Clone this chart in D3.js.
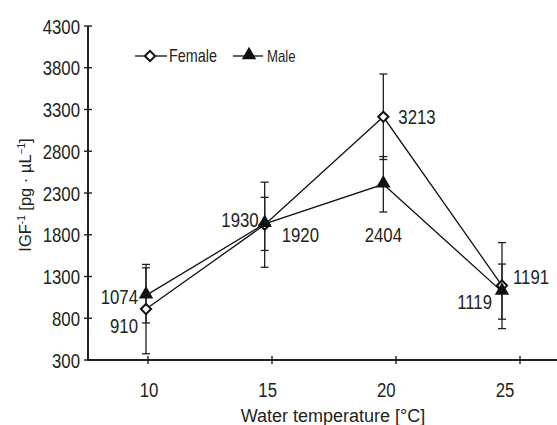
<!DOCTYPE html>
<html>
<head>
<meta charset="utf-8">
<script src="https://cdn.jsdelivr.net/npm/d3@7"></script>
<style>
  body { margin: 0; background: #fff; }
  svg { display: block; }
  .narrow { font-family: "Liberation Sans", Arial, sans-serif; }
  .reg { font-family: "Liberation Sans", Arial, sans-serif; }
</style>
</head>
<body>
<div id="chart"></div>
<script>
// ----------------------------
// Data
// ----------------------------
const temps = [10, 15, 20, 25];
const female = [910, 1920, 3213, 1191];
const male = [1074, 1930, 2404, 1119];
const femaleErr = [535, 510, 512, 515];
const maleErr = [330, 318, 332, 330];
const yTicks = [300, 800, 1300, 1800, 2300, 2800, 3300, 3800, 4300];
const legendNames = ['Female', 'Male'];

const W = 557, H = 425;
const ink = '#231f20';
const SQUEEZE = 0.8; // no Arial Narrow installed, so squeeze Liberation Sans

const svg = d3.select('#chart').append('svg')
  .attr('width', W).attr('height', H);

// narrow text helper: position via transform so the x-scale doesn't shift it
function narrow(sel, fx, fy) {
  return sel
    .attr('class', 'narrow')
    .attr('x', 0).attr('y', 0)
    .attr('transform', (d, i) => `translate(${fx(d, i)},${fy(d, i)}) scale(${SQUEEZE},1)`);
}

// ----------------------------
// Scales
// ----------------------------
const y = d3.scaleLinear().domain([300, 4300]).range([360, 26]);
const x = d3.scaleLinear().domain([10, 25]).range([146, 502]);
// tick marks of the category axis sit a bit off the points
const xTick = d3.scaleLinear().domain([10, 25]).range([148, 520]);

// ----------------------------
// Axes
// ----------------------------
const axisX0 = 88;

svg.append('line')
  .attr('x1', axisX0).attr('x2', axisX0)
  .attr('y1', y(4300)).attr('y2', y(300) + 1)
  .attr('stroke', ink).attr('stroke-width', 2);

svg.append('line')
  .attr('x1', axisX0 - 1).attr('x2', W)
  .attr('y1', y(300)).attr('y2', y(300))
  .attr('stroke', ink).attr('stroke-width', 2);

const yAx = svg.append('g');
yAx.selectAll('line').data(yTicks).enter().append('line')
  .attr('x1', axisX0 - 4).attr('x2', axisX0 + 4)
  .attr('y1', d => y(d)).attr('y2', d => y(d))
  .attr('stroke', ink).attr('stroke-width', 1.4);
yAx.selectAll('text').data(yTicks).enter().append('text')
  .call(narrow, () => axisX0 - 8, d => y(d) + 7.5)
  .attr('text-anchor', 'end')
  .attr('font-size', '21px')
  .attr('fill', ink)
  .text(d => d);

const xAx = svg.append('g');
xAx.selectAll('line').data(temps).enter().append('line')
  .attr('x1', d => xTick(d)).attr('x2', d => xTick(d))
  .attr('y1', y(300) - 4).attr('y2', y(300) + 4)
  .attr('stroke', ink).attr('stroke-width', 1.4);
xAx.selectAll('text').data(temps).enter().append('text')
  .call(narrow, d => x(d) + 3, () => 397)
  .attr('text-anchor', 'middle')
  .attr('font-size', '21px')
  .attr('fill', ink)
  .text(d => d);

svg.append('text')
  .attr('class', 'reg')
  .attr('x', 333).attr('y', 422)
  .attr('text-anchor', 'middle')
  .attr('font-size', '18px')
  .attr('fill', ink)
  .text('Water temperature [°C]');

const yTitle = svg.append('text')
  .attr('class', 'reg')
  .attr('transform', 'translate(31,195) rotate(-90)')
  .attr('text-anchor', 'middle')
  .attr('font-size', '16.5px')
  .attr('fill', ink);
yTitle.append('tspan').text('IGF');
yTitle.append('tspan').attr('font-size', '10px').attr('dy', -6).text('-1');
yTitle.append('tspan').attr('dy', 6).text(' [pg · µL');
yTitle.append('tspan').attr('font-size', '10px').attr('dy', -6).text('−1');
yTitle.append('tspan').attr('dy', 6).text(']');

// ----------------------------
// Series
// ----------------------------
const series = [
  { name: 'Female', vals: female, err: femaleErr },
  { name: 'Male', vals: male, err: maleErr }
];

const line = d3.line().x((d, i) => x(temps[i])).y(d => y(d));

series.forEach(s => {
  const g = svg.append('g');
  // error bars
  s.vals.forEach((v, i) => {
    const cx = x(temps[i]);
    g.append('line')
      .attr('x1', cx).attr('x2', cx)
      .attr('y1', y(v + s.err[i])).attr('y2', y(v - s.err[i]))
      .attr('stroke', ink).attr('stroke-width', 1.3);
    [v + s.err[i], v - s.err[i]].forEach(e => {
      g.append('line')
        .attr('x1', cx - 4).attr('x2', cx + 4)
        .attr('y1', y(e)).attr('y2', y(e))
        .attr('stroke', ink).attr('stroke-width', 1.3);
    });
  });
});

series.forEach(s => {
  svg.append('path')
    .datum(s.vals)
    .attr('d', line)
    .attr('fill', 'none')
    .attr('stroke', '#111')
    .attr('stroke-width', 1.3);
});

const diamond = d3.symbol().type(d3.symbolDiamond2).size(66);
const triangle = d3.symbol().type(d3.symbolTriangle).size(90);

function drawMarker(sel, name, cx, cy) {
  if (name === 'Female') {
    sel.append('path')
      .attr('d', diamond())
      .attr('transform', `translate(${cx},${cy})`)
      .attr('fill', '#fff')
      .attr('stroke', '#111')
      .attr('stroke-width', 2);
  } else {
    sel.append('path')
      .attr('d', triangle())
      .attr('transform', `translate(${cx},${cy - 1})`)
      .attr('fill', '#111');
  }
}

series.forEach(s => {
  const g = svg.append('g');
  s.vals.forEach((v, i) => drawMarker(g, s.name, x(temps[i]), y(v)));
});

// ----------------------------
// Value labels
// ----------------------------
const femaleLabelPos = [
  { dx: -8, dy: 24, anchor: 'end' },
  { dx: 17, dy: 17, anchor: 'start' },
  { dx: 15, dy: 7, anchor: 'start' },
  { dx: 11, dy: -2, anchor: 'start' }
];
const maleLabelPos = [
  { dx: -8, dy: 9, anchor: 'end' },
  { dx: -6, dy: 3, anchor: 'end' },
  { dx: 0, dy: 58, anchor: 'middle' },
  { dx: -10, dy: 17, anchor: 'end' }
];

function drawLabels(vals, pos) {
  svg.append('g').selectAll('text').data(vals).enter().append('text')
    .call(narrow, (d, i) => x(temps[i]) + pos[i].dx, (d, i) => y(d) + pos[i].dy)
    .attr('text-anchor', (d, i) => pos[i].anchor)
    .attr('font-size', '21px')
    .attr('fill', ink)
    .text(d => d);
}
drawLabels(female, femaleLabelPos);
drawLabels(male, maleLabelPos);

// ----------------------------
// Legend
// ----------------------------
const legend = svg.append('g');
const legendItems = [
  { name: legendNames[0], x1: 135, x2: 167, mx: 150, tx: 169, fs: 18 },
  { name: legendNames[1], x1: 233, x2: 263, mx: 249, tx: 267, fs: 16.5 }
];
legendItems.forEach(it => {
  legend.append('line')
    .attr('x1', it.x1).attr('x2', it.x2)
    .attr('y1', 56).attr('y2', 56)
    .attr('stroke', '#111').attr('stroke-width', 1.3);
  drawMarker(legend, it.name, it.mx, 56);
  legend.append('text')
    .datum(it)
    .call(narrow, d => d.tx, () => 62)
    .attr('font-size', it.fs + 'px')
    .attr('fill', ink)
    .text(it.name);
});
</script>
</body>
</html>
